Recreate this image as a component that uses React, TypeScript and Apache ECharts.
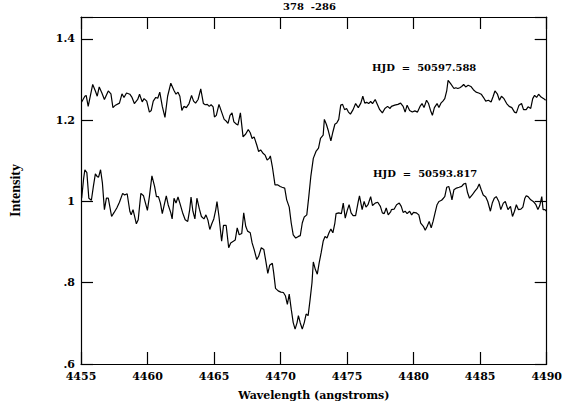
import React, { useEffect, useRef } from "react";
import * as echarts from "echarts";

const chartTitle = "378  -286";
const xAxisTitle = "Wavelength (angstroms)";
const yAxisTitle = "Intensity";
const label588 = "HJD  =  50597.588";
const label817 = "HJD  =  50593.817";

const xTicks = [4455, 4460, 4465, 4470, 4475, 4480, 4485, 4490];
const yTicks = [0.6, 0.8, 1.0, 1.2, 1.4];

// Spectrum HJD 50597.588 (upper)
const wl588 = [
  4455.05, 4455.29, 4455.39, 4455.54, 4455.88, 4456.08, 4456.22, 4456.37, 4456.57, 4456.76,
  4457.05, 4457.25, 4457.40, 4457.59, 4457.89, 4458.08, 4458.23, 4458.42, 4458.67, 4458.82,
  4459.01, 4459.26, 4459.40, 4459.60, 4459.74, 4459.94, 4460.14, 4460.28, 4460.43, 4460.62,
  4460.77, 4460.92, 4461.11, 4461.31, 4461.51, 4461.75, 4461.99, 4462.14, 4462.29, 4462.43,
  4462.58, 4462.73, 4462.92, 4463.12, 4463.31, 4463.46, 4463.61, 4463.80, 4464.00, 4464.20,
  4464.34, 4464.49, 4464.64, 4464.78, 4464.93, 4465.03, 4465.17, 4465.37, 4465.57, 4465.76,
  4465.91, 4466.05, 4466.20, 4466.35, 4466.49, 4466.69,
  4466.79, 4466.98, 4467.18, 4467.38, 4467.57, 4467.72, 4467.86, 4468.01, 4468.21, 4468.35,
  4468.50, 4468.70, 4468.84, 4468.99, 4469.14, 4469.23, 4469.38, 4469.58, 4469.77, 4469.97,
  4470.11, 4470.31, 4470.46, 4470.65, 4470.80, 4470.95, 4471.14, 4471.34, 4471.48, 4471.63,
  4471.78, 4471.97, 4472.12, 4472.27, 4472.46, 4472.66, 4472.85, 4473.00, 4473.20, 4473.29,
  4473.44, 4473.59, 4473.78, 4473.93, 4474.08, 4474.22, 4474.37, 4474.52, 4474.66, 4474.81,
  4474.96, 4475.10, 4475.25, 4475.45, 4475.64, 4475.84, 4476.03, 4476.18, 4476.33, 4476.47,
  4476.62, 4476.77, 4476.91, 4477.11, 4477.30, 4477.45, 4477.65, 4477.84, 4478.04, 4478.23,
  4478.33, 4478.58, 4478.82, 4479.02, 4479.21, 4479.36, 4479.51, 4479.70, 4479.90, 4480.09,
  4480.29, 4480.48, 4480.63, 4480.78, 4480.97, 4481.12, 4481.27, 4481.41, 4481.56, 4481.76,
  4481.90, 4482.05, 4482.20, 4482.34, 4482.49, 4482.59, 4482.78, 4483.03, 4483.17, 4483.32,
  4483.47, 4483.61, 4483.76, 4483.91, 4484.10, 4484.30, 4484.49, 4484.69, 4484.89, 4485.08,
  4485.23, 4485.42, 4485.62, 4485.82, 4485.96, 4486.11, 4486.30, 4486.45, 4486.60, 4486.79,
  4486.99, 4487.18, 4487.38, 4487.58, 4487.72, 4487.92, 4488.11, 4488.26, 4488.46, 4488.60,
  4488.80, 4488.95, 4489.09, 4489.24, 4489.39, 4489.58, 4489.78, 4489.92,
];
const int588 = [
  1.245, 1.259, 1.261, 1.234, 1.288, 1.272, 1.259, 1.282, 1.267, 1.251,
  1.272, 1.265, 1.231, 1.237, 1.242, 1.265, 1.256, 1.267, 1.264, 1.257,
  1.241, 1.251, 1.264, 1.245, 1.253, 1.247, 1.220, 1.224, 1.247, 1.256,
  1.254, 1.269, 1.234, 1.207, 1.259, 1.291, 1.273, 1.264, 1.269, 1.259,
  1.224, 1.234, 1.231, 1.241, 1.261, 1.247, 1.242, 1.251, 1.277, 1.241,
  1.238, 1.239, 1.234, 1.238, 1.233, 1.208, 1.212, 1.239, 1.220, 1.202,
  1.198, 1.192, 1.212, 1.218, 1.196, 1.190,
  1.188, 1.218, 1.159, 1.166, 1.177, 1.169, 1.155, 1.159, 1.139, 1.123,
  1.127, 1.118, 1.114, 1.102, 1.106, 1.112, 1.086, 1.041, 1.041, 1.037,
  1.035, 1.033, 1.004, 0.986, 0.947, 0.918, 0.910, 0.914, 0.916, 0.947,
  0.962, 0.967, 1.012, 1.061, 1.106, 1.123, 1.131, 1.155, 1.163, 1.202,
  1.190, 1.174, 1.149, 1.171, 1.190, 1.193, 1.202, 1.237, 1.239, 1.226,
  1.229, 1.220, 1.215, 1.226, 1.241, 1.231, 1.242, 1.259, 1.242, 1.244,
  1.241, 1.246, 1.241, 1.251, 1.237, 1.226, 1.218, 1.229, 1.234, 1.229,
  1.234, 1.237, 1.239, 1.242, 1.234, 1.220, 1.237, 1.224, 1.220, 1.223,
  1.220, 1.234, 1.241, 1.231, 1.249, 1.241, 1.224, 1.212, 1.231, 1.241,
  1.231, 1.242, 1.247, 1.253, 1.273, 1.298, 1.290, 1.278, 1.280, 1.278,
  1.280, 1.283, 1.288, 1.282, 1.286, 1.283, 1.275, 1.269, 1.267, 1.264,
  1.257, 1.247, 1.249, 1.245, 1.257, 1.272, 1.264, 1.249, 1.259, 1.253,
  1.241, 1.234, 1.231, 1.220, 1.218, 1.237, 1.241, 1.226, 1.226, 1.233,
  1.229, 1.253, 1.261, 1.256, 1.264, 1.257, 1.253, 1.249,
];

// Spectrum HJD 50593.817 (lower)
const wl817 = [
  4455.05, 4455.20, 4455.29, 4455.44, 4455.59, 4455.78, 4455.93, 4456.08, 4456.22, 4456.32,
  4456.47, 4456.61, 4456.76, 4456.91, 4457.05, 4457.30, 4457.49, 4457.69, 4457.89, 4458.13,
  4458.28, 4458.47, 4458.67, 4458.77, 4458.91, 4459.16, 4459.30, 4459.50, 4459.70, 4459.99,
  4460.14, 4460.33, 4460.53, 4460.67, 4460.82, 4460.97, 4461.11, 4461.26, 4461.41, 4461.55,
  4461.75, 4461.85, 4461.99, 4462.14, 4462.29, 4462.43, 4462.63, 4462.83, 4463.02, 4463.17,
  4463.27, 4463.41, 4463.56, 4463.71, 4463.90, 4464.05, 4464.24, 4464.39, 4464.54, 4464.68,
  4464.83, 4464.98, 4465.13, 4465.22, 4465.37, 4465.57, 4465.71, 4465.91, 4466.10, 4466.25,
  4466.45, 4466.59,
  4466.74, 4466.89, 4467.08, 4467.23, 4467.38, 4467.52, 4467.72, 4467.86, 4468.01, 4468.21,
  4468.35, 4468.55, 4468.74, 4468.89, 4469.04, 4469.18, 4469.38, 4469.48, 4469.62, 4469.82,
  4470.02, 4470.21, 4470.36, 4470.51, 4470.65, 4470.80, 4470.95, 4471.09, 4471.24, 4471.34,
  4471.48, 4471.63, 4471.78, 4471.92, 4472.07, 4472.22, 4472.36, 4472.46, 4472.61, 4472.76,
  4472.90, 4473.05, 4473.20, 4473.34, 4473.49, 4473.64, 4473.78, 4473.93, 4474.08, 4474.17,
  4474.37, 4474.57, 4474.71, 4474.86, 4475.01, 4475.15, 4475.30, 4475.45, 4475.64, 4475.84,
  4475.93, 4476.13, 4476.28, 4476.42, 4476.57, 4476.77, 4476.91, 4477.11, 4477.30, 4477.50,
  4477.65, 4477.79, 4477.94, 4478.09, 4478.28,
  4478.33, 4478.53, 4478.72, 4478.92, 4479.07, 4479.21, 4479.36, 4479.51, 4479.70, 4479.85,
  4479.99, 4480.19, 4480.39, 4480.53, 4480.73, 4480.87, 4481.02, 4481.17, 4481.32, 4481.46,
  4481.61, 4481.76, 4481.90, 4482.10, 4482.24, 4482.34, 4482.49, 4482.64, 4482.78, 4482.88,
  4483.03, 4483.22, 4483.42, 4483.61, 4483.76, 4483.91, 4484.05, 4484.20, 4484.40, 4484.59,
  4484.79, 4484.93, 4485.08, 4485.23, 4485.42, 4485.57, 4485.77, 4485.91, 4486.06, 4486.21,
  4486.40, 4486.55, 4486.74, 4486.89, 4487.09, 4487.28, 4487.43, 4487.58, 4487.72, 4487.87,
  4488.06, 4488.21, 4488.36, 4488.46, 4488.60, 4488.80, 4488.99, 4489.19, 4489.34, 4489.48,
  4489.63, 4489.73, 4489.87, 4489.97,
];
const int817 = [
  1.008, 1.057, 1.078, 1.071, 1.008, 1.003, 1.037, 1.068, 1.061, 1.060,
  1.078, 1.045, 0.980, 1.008, 1.008, 0.963, 0.973, 0.984, 0.998, 1.020,
  1.016, 1.019, 0.976, 0.967, 0.980, 0.945, 0.955, 1.020, 1.014, 0.978,
  1.012, 1.063, 1.037, 1.012, 1.012, 0.996, 0.970, 0.992, 1.014, 0.992,
  0.972, 0.957, 1.008, 0.996, 1.011, 0.996, 0.973, 0.955, 0.951, 0.980,
  1.011, 0.976, 0.957, 1.008, 0.981, 0.963, 0.957, 0.967, 0.954, 0.931,
  0.945, 0.957, 0.980, 1.000, 0.963, 0.902, 0.941, 0.941, 0.886, 0.898,
  0.902, 0.905,
  0.935, 0.918, 0.921, 0.972, 0.939, 0.927, 0.923, 0.898, 0.882, 0.857,
  0.865, 0.886, 0.882, 0.853, 0.823, 0.843, 0.848, 0.825, 0.786, 0.780,
  0.777, 0.776, 0.768, 0.747, 0.772, 0.735, 0.702, 0.686, 0.702, 0.719,
  0.701, 0.686, 0.702, 0.723, 0.719, 0.759, 0.800, 0.851, 0.833, 0.821,
  0.849, 0.874, 0.902, 0.914, 0.910, 0.923, 0.932, 0.923, 0.947, 0.970,
  0.972, 0.970, 0.996, 0.959, 0.978, 0.992, 0.972, 0.965, 0.965, 1.000,
  1.014, 0.980, 1.000, 0.986, 0.992, 1.012, 0.990, 0.996, 0.998, 0.988,
  0.972, 0.970, 0.984, 0.967, 0.975,
  0.980, 0.981, 0.992, 0.996, 0.988, 0.973, 0.976, 0.970, 0.976, 0.967,
  0.973, 0.972, 0.967, 0.947, 0.939, 0.929, 0.939, 0.951, 0.935, 0.951,
  0.972, 0.992, 1.000, 1.003, 1.008, 1.012, 1.035, 1.037, 1.020, 1.004,
  1.029, 1.033, 1.035, 1.037, 1.043, 1.045, 1.022, 1.008, 1.016, 1.025,
  1.033, 1.043, 1.029, 1.016, 1.011, 1.000, 0.976, 0.996, 1.008, 1.012,
  1.000, 0.980, 0.996, 1.000, 0.980, 0.988, 0.963, 0.976, 0.992, 0.980,
  0.981, 0.986, 1.008, 1.014, 1.012, 1.004, 1.000, 0.992, 0.980, 0.990,
  1.012, 0.980, 0.980, 0.976,
];

const X_MIN = xTicks[0];
const X_MAX = xTicks[xTicks.length - 1];
const Y_MIN = yTicks[0];
const Y_MAX = 1.454;

export default function App() {
  const ref = useRef<HTMLDivElement>(null);

  useEffect(() => {
    if (!ref.current) return;
    const chart = echarts.init(ref.current, null, { renderer: "svg" });
    const pairs = (w: number[], v: number[]) => w.map((x, i) => [x, v[i]]);

    const axisLine = { show: true, onZero: false, lineStyle: { color: "#000", width: 1.2 } };
    const axisTick = { show: true, inside: true, length: 12, lineStyle: { color: "#000", width: 1.2 } };
    const tickFont = {
      color: "#000",
      fontFamily: "DejaVu Serif",
      fontWeight: "bold" as const,
      fontSize: 11,
    };
    const xFmt = (v: number) => String(Math.round(v));
    const yFmt = (v: number) => {
      if (v > 1.41) return "";
      const s = String(+v.toFixed(1));
      return s.startsWith("0") ? s.slice(1) : s;
    };

    chart.setOption({
      animation: false,
      backgroundColor: "#ffffff",
      grid: { left: 74, right: 14, top: 17, bottom: 40, containLabel: false },
      xAxis: [
        {
          type: "value",
          position: "bottom",
          min: X_MIN,
          max: X_MAX,
          interval: 5,
          axisLine,
          axisTick,
          splitLine: { show: false },
          axisLabel: { ...tickFont, margin: 7, formatter: xFmt },
          name: xAxisTitle,
          nameLocation: "middle",
          nameGap: 26,
          nameTextStyle: {
            color: "#000",
            fontFamily: "DejaVu Serif",
            fontWeight: "bold",
            fontSize: 11,
          },
        },
        {
          type: "value",
          position: "top",
          min: X_MIN,
          max: X_MAX,
          interval: 5,
          axisLine,
          axisTick,
          splitLine: { show: false },
          axisLabel: { show: false },
        },
      ],
      yAxis: [
        {
          type: "value",
          position: "left",
          min: Y_MIN,
          max: Y_MAX,
          interval: 0.2,
          axisLine,
          axisTick,
          splitLine: { show: false },
          axisLabel: { ...tickFont, margin: 6, formatter: yFmt },
          name: yAxisTitle,
          nameLocation: "middle",
          nameGap: 59,
          nameRotate: 90,
          nameTextStyle: {
            color: "#000",
            fontFamily: "Liberation Serif",
            fontWeight: "bold",
            fontSize: 14,
          },
        },
        {
          type: "value",
          position: "right",
          min: Y_MIN,
          max: Y_MAX,
          interval: 0.2,
          axisLine,
          axisTick,
          splitLine: { show: false },
          axisLabel: { show: false },
        },
      ],
      series: [
        {
          type: "line",
          name: label588,
          xAxisIndex: 0,
          yAxisIndex: 0,
          data: pairs(wl588, int588),
          showSymbol: false,
          lineStyle: { color: "#000", width: 1.2 },
          silent: true,
        },
        {
          type: "line",
          name: label817,
          xAxisIndex: 0,
          yAxisIndex: 0,
          data: pairs(wl817, int817),
          showSymbol: false,
          lineStyle: { color: "#000", width: 1.2 },
          silent: true,
        },
      ],
      graphic: [
        {
          type: "text",
          x: 283,
          y: 6,
          style: {
            text: chartTitle,
            fill: "#000",
            font: "bold 10px 'DejaVu Serif'",
            align: "left",
            verticalAlign: "middle",
          },
        },
        {
          type: "text",
          x: 372,
          y: 67,
          style: {
            text: label588,
            fill: "#000",
            font: "bold 10px 'DejaVu Serif'",
            align: "left",
            verticalAlign: "middle",
          },
        },
        {
          type: "text",
          x: 373,
          y: 173,
          style: {
            text: label817,
            fill: "#000",
            font: "bold 10px 'DejaVu Serif'",
            align: "left",
            verticalAlign: "middle",
          },
        },
      ],
    });

    return () => chart.dispose();
  }, []);

  return (
    <div
      ref={ref}
      style={{ position: "absolute", left: 0, top: 0, width: 565, height: 406, background: "#fff" }}
    />
  );
}
